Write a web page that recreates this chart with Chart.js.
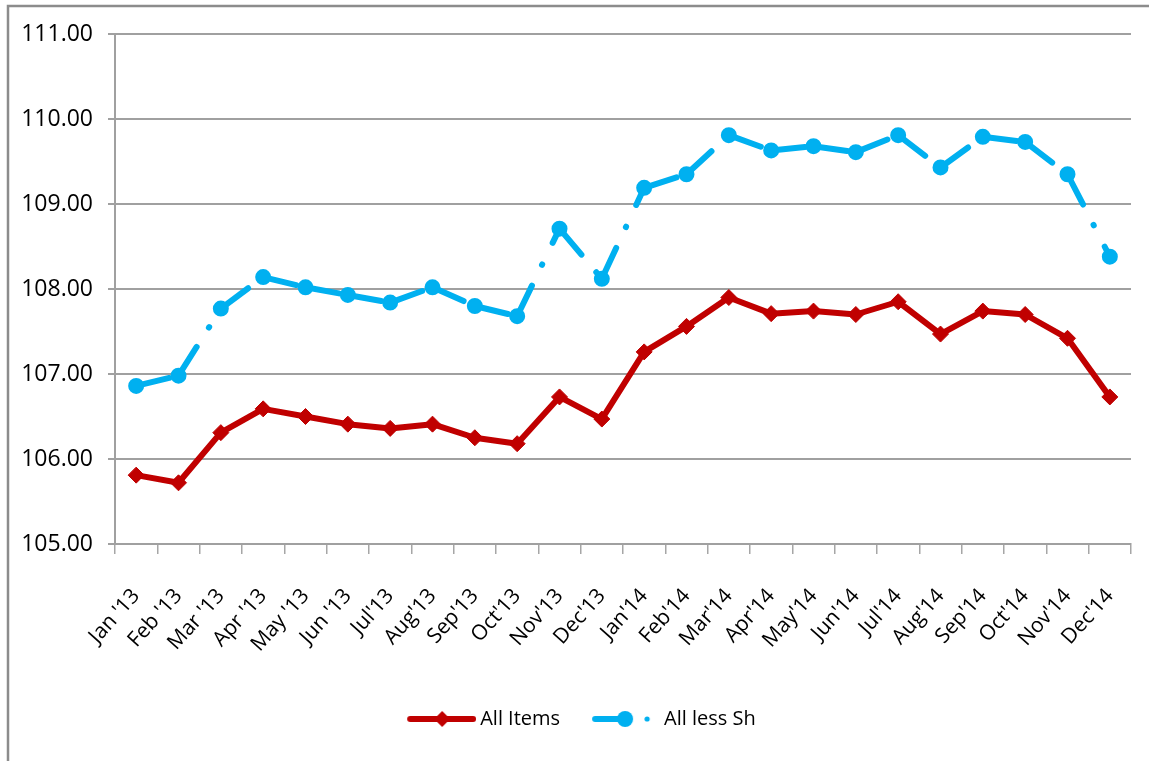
<!DOCTYPE html>
<html>
<head>
<meta charset="utf-8">
<script src="https://cdn.jsdelivr.net/npm/chart.js@4.4.1/dist/chart.umd.min.js"></script>
<style>
  html, body { margin: 0; padding: 0; background: #fff; }
  #wrap { width: 1149px; height: 761px; }
</style>
</head>
<body>
<div id="wrap"><canvas id="c" width="1149" height="761"></canvas></div>
<script>
// Monthly index values, Jan 2013 – Dec 2014
const months = ["Jan '13", "Feb '13", "Mar '13", "Apr '13", "May '13", "Jun '13", "Jul'13", "Aug'13",
                "Sep'13", "Oct'13", "Nov'13", "Dec'13", "Jan'14", "Feb'14", "Mar'14", "Apr'14",
                "May'14", "Jun'14", "Jul'14", "Aug'14", "Sep'14", "Oct'14", "Nov'14", "Dec'14"];
const allItems = [105.81, 105.72, 106.31, 106.59, 106.50, 106.41, 106.36, 106.41, 106.25, 106.18, 106.73, 106.47,
                  107.26, 107.56, 107.90, 107.71, 107.74, 107.70, 107.85, 107.47, 107.74, 107.70, 107.42, 106.73];
const allLessSh = [106.86, 106.98, 107.77, 108.14, 108.02, 107.93, 107.84, 108.02, 107.80, 107.68, 108.71, 108.12,
                   109.19, 109.35, 109.81, 109.63, 109.68, 109.61, 109.81, 109.43, 109.79, 109.73, 109.35, 108.38];
const seriesNames = ['All Items', 'All less Sh'];
const yTicks = { min: 105, max: 111, step: 1 };

const RED = '#C00000';
const BLUE = '#00B0F0';
const FONT = "'Open Sans', 'DejaVu Sans', sans-serif";

// Small legend swatches: line + marker, drawn once into offscreen canvases
function swatch(kind) {
  const cv = document.createElement('canvas');
  cv.width = 72; cv.height = 24;
  const g = cv.getContext('2d');
  g.lineCap = 'round';
  g.lineWidth = 6;
  if (kind === 'red') {
    g.strokeStyle = RED; g.fillStyle = RED;
    g.beginPath(); g.moveTo(6, 12); g.lineTo(69, 12); g.stroke();
    g.beginPath(); g.moveTo(38 - 8, 12); g.lineTo(38, 4); g.lineTo(38 + 8, 12); g.lineTo(38, 20); g.closePath(); g.fill();
  } else {
    g.strokeStyle = BLUE; g.fillStyle = BLUE;
    g.beginPath(); g.moveTo(7, 12); g.lineTo(37, 12); g.stroke();
    g.beginPath(); g.arc(37, 12, 8, 0, Math.PI * 2); g.fill();
    g.beginPath(); g.arc(59, 12, 2.6, 0, Math.PI * 2); g.fill();
  }
  return cv;
}
const swatches = [swatch('red'), swatch('blue')];

// White page with the frame along the top and left edges
const framePlugin = {
  id: 'frame',
  beforeDraw(chart) {
    const ctx = chart.ctx;
    ctx.save();
    ctx.fillStyle = '#fff';
    ctx.fillRect(0, 0, chart.width, chart.height);
    ctx.strokeStyle = '#8c8c8c';
    ctx.lineWidth = 2.5;
    ctx.beginPath();
    ctx.moveTo(8, chart.height);
    ctx.lineTo(8, 6);
    ctx.lineTo(chart.width, 6);
    ctx.stroke();
    ctx.restore();
  }
};

new Chart(document.getElementById('c'), {
  type: 'line',
  data: {
    labels: months,
    datasets: [
      {
        label: seriesNames[0],
        data: allItems,
        borderColor: RED,
        backgroundColor: RED,
        borderWidth: 6,
        borderJoinStyle: 'round',
        borderCapStyle: 'round',
        pointStyle: 'rectRot',
        pointRadius: 8,
        pointBorderWidth: 1,
        pointBackgroundColor: RED,
        pointBorderColor: RED,
        tension: 0
      },
      {
        label: seriesNames[1],
        data: allLessSh,
        borderColor: BLUE,
        backgroundColor: BLUE,
        borderWidth: 6,
        borderJoinStyle: 'round',
        borderCapStyle: 'round',
        borderDash: [34, 23, 0.5, 24],
        pointStyle: 'circle',
        pointRadius: 7,
        pointBorderWidth: 2,
        pointBackgroundColor: BLUE,
        pointBorderColor: BLUE,
        tension: 0,
        // a tiny per-segment offset makes each segment stroke on its own,
        // so the long-dash-dot pattern restarts at every point
        segment: {
          borderDashOffset: ctx => ctx.p0DataIndex * 1e-4
        }
      }
    ]
  },
  options: {
    responsive: false,
    animation: false,
    layout: { padding: { left: 0, right: 18, top: 34, bottom: 22 } },
    plugins: {
      tooltip: { enabled: false },
      legend: {
        position: 'bottom',
        align: 'center',
        fullSize: false,
        labels: {
          usePointStyle: true,
          pointStyleWidth: 60,
          padding: 34,
          color: '#000',
          font: { family: FONT, size: 20 },
          generateLabels(chart) {
            const n = chart.data.datasets.length;
            return chart.data.datasets.map((ds, i) => ({
              // trailing em spaces pull the centred row a little to the left
              text: i === n - 1 ? ds.label + '\u2003\u2003\u2003\u2003' : ds.label,
              pointStyle: swatches[i],
              fillStyle: ds.borderColor,
              strokeStyle: ds.borderColor,
              lineWidth: 0,
              hidden: false,
              datasetIndex: i,
              fontColor: '#000'
            }));
          }
        }
      }
    },
    scales: {
      x: {
        offset: true,
        grid: {
          offset: true,
          drawOnChartArea: false,
          drawTicks: true,
          tickLength: 10,
          color: '#a6a6a6',
          lineWidth: 1.5
        },
        border: { color: '#a0a0a0', width: 2 },
        ticks: {
          autoSkip: false,
          maxRotation: 48,
          minRotation: 48,
          padding: 30,
          color: '#000',
          font: { family: FONT, size: 21 }
        },
        afterFit(scale) {
          scale.height = 131;
          scale.paddingLeft = 0;
          scale.paddingRight = 0;
        }
      },
      y: {
        min: yTicks.min,
        max: yTicks.max,
        grid: {
          color: '#a0a0a0',
          lineWidth: 2,
          tickLength: 7
        },
        border: { color: '#a0a0a0', width: 2 },
        ticks: {
          stepSize: yTicks.step,
          padding: 15,
          color: '#000',
          font: { family: FONT, size: 23 },
          callback: v => Number(v).toFixed(2)
        },
        afterFit(scale) { scale.width = 115; }
      }
    }
  },
  plugins: [framePlugin]
});
</script>
</body>
</html>
